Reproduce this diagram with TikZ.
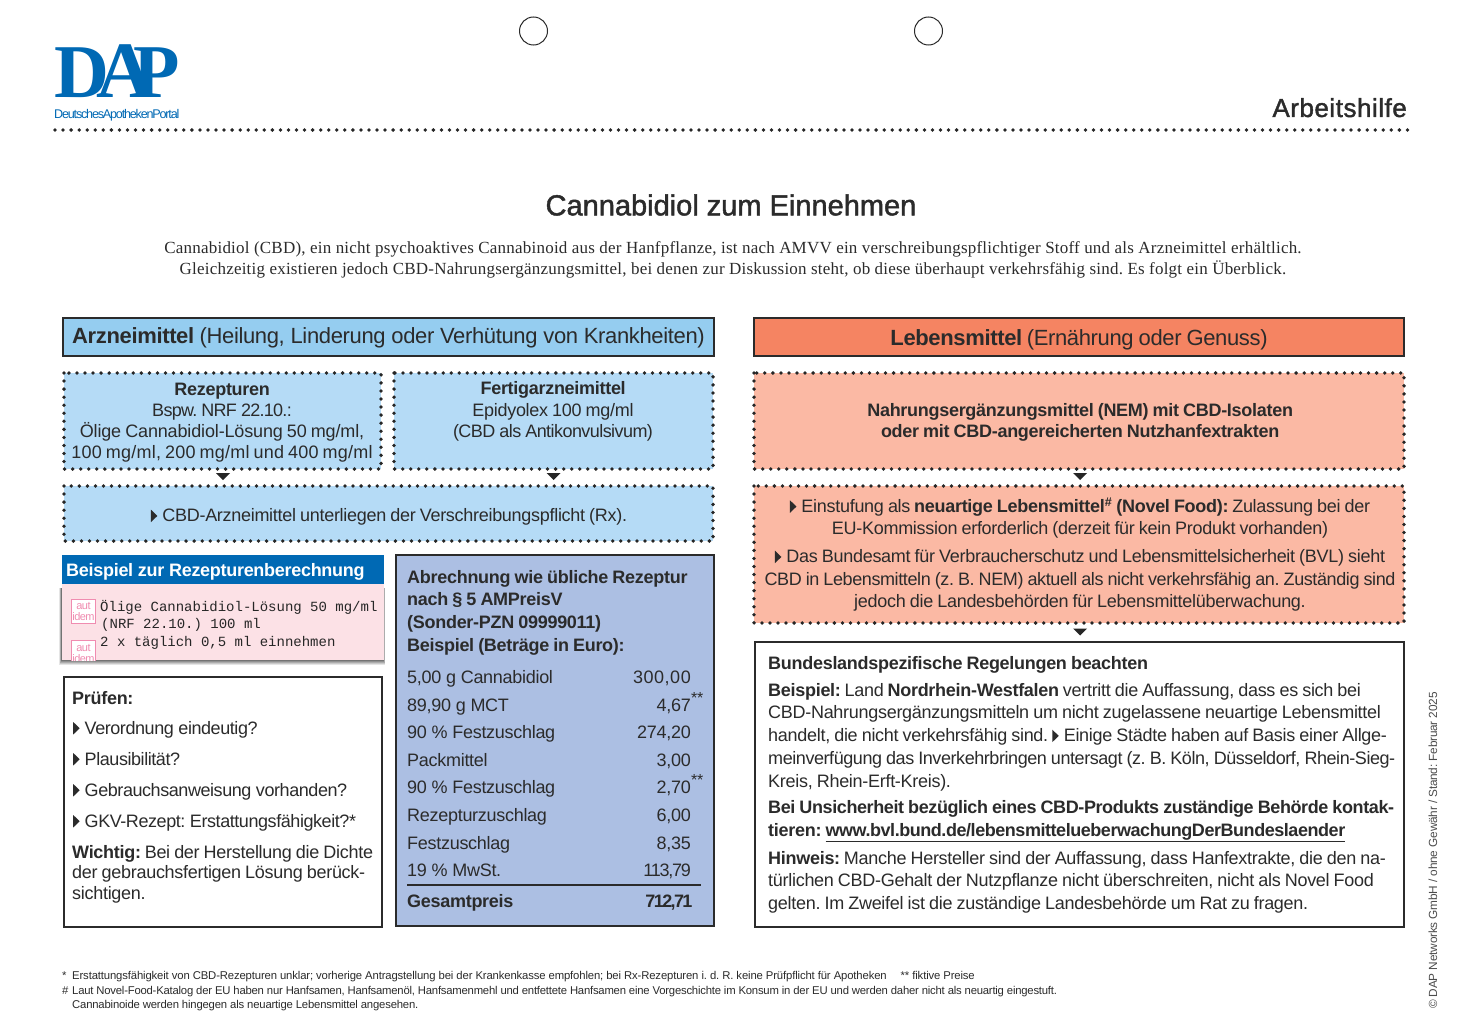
\documentclass[tikz,border=0pt]{standalone}
\usepackage{fontspec}
\setmainfont[LetterSpace=-1.6]{Liberation Sans}
\newfontfamily\serifintro[LetterSpace=1.25]{Liberation Serif}
\newfontfamily\logoserif{Liberation Serif}
\newfontfamily\headsans[FakeBold=1.5]{Liberation Sans}
\newfontfamily\rezeptmono{Liberation Mono}
\usetikzlibrary{positioning, calc}

\definecolor{dapblue}{HTML}{0069B4}
\definecolor{inktext}{HTML}{2B2B2B}
\definecolor{armhead}{HTML}{95CDF0}
\definecolor{armfill}{HTML}{B5DBF6}
\definecolor{calcfill}{HTML}{ACBFE3}
\definecolor{foodhead}{HTML}{F58462}
\definecolor{foodfill}{HTML}{FBB9A4}
\definecolor{rxpink}{HTML}{FCE1E6}
\definecolor{stamppink}{HTML}{F08CB0}

\newcommand{\px}[2]{\fontsize{#1}{#2}\selectfont}
\newcommand{\bx}[2]{\fontsize{#1}{#2}\selectfont\spaceskip=0.225em\relax}
\newcommand{\ls}[1]{\addfontfeature{LetterSpace=#1}}
\newcommand{\bul}{\tikz[x=1pt,y=1pt,baseline=0pt]\fill (0,-0.5) -- (0,12) -- (6.5,5.75) -- cycle;\hspace{5pt}}

\tikzset{
  solidbox/.style={draw=inktext, line width=2pt},
  dotbox/.style={draw=black!85, line width=3.8pt, line cap=round, dash pattern=on 0pt off 8.05pt},
  body/.style={font=\bx{18}{21.2}, text=inktext, inner sep=0pt, align=center},
  bodyleft/.style={font=\bx{18}{22.7}, text=inktext, inner sep=0pt, align=left, anchor=north west},
  rowtext/.style={font=\px{18}{21}, text=inktext, inner sep=0pt},
  rxline/.style={font=\rezeptmono\px{14}{14}, text=black!85, inner sep=0pt, anchor=west},
  stampbox/.style={draw=stamppink, line width=1.4pt, fill=white},
  stamptext/.style={font=\px{11}{10.5}\ls{-5}, text=stamppink, inner sep=0pt, align=center},
  notetext/.style={font=\px{11.3}{14}, text=inktext, inner sep=0pt, align=left, anchor=base west},
  pointer/.style={fill=black!85},
  logoletter/.style={font=\logoserif\bfseries\px{76}{76}, text=dapblue, inner sep=0pt, anchor=base west},
}

\begin{document}
\frenchspacing
\begin{tikzpicture}[x=1pt, y=-1pt]
\useasboundingbox (0,0) rectangle (1463,1030);
\fill[white] (0,0) rectangle (1463,1030);

% ---------------- head ----------------
\draw[line width=1pt, inktext] (533.5,31) circle (14);
\draw[line width=1pt, inktext] (928.5,31) circle (14);

\node[logoletter] (logoD) at (54,98) {D};
\node[logoletter, font=\logoserif\bfseries\px{80}{80}] (logoA) at (96,98) {A};
\node[logoletter] (logoP) at (133,98) {P};
\node[font=\px{12.6}{13}\ls{-9.5}, text=dapblue, inner sep=0pt, anchor=base west] (logoName) at (54,118) {DeutschesApothekenPortal};

\node[font=\headsans\px{26}{26}\ls{2}, text=inktext, inner sep=0pt, anchor=base east] (sheetType) at (1407,117) {Arbeitshilfe};
\draw[line width=3.8pt, line cap=round, black!85, dash pattern=on 0pt off 8.05pt] (55,130) -- (1410,130);

\node[font=\headsans\px{29}{29}, text=inktext, inner sep=0pt] (title) at (731,205) {Cannabidiol zum Einnehmen};
\node[font=\serifintro\px{17}{20.6}, text=inktext, inner sep=0pt, align=center] (intro) at (733,260)
  {Cannabidiol (CBD), ein nicht psychoaktives Cannabinoid aus der Hanfpflanze, ist nach AMVV ein verschreibungspflichtiger Stoff und als Arzneimittel erhältlich.\\
   Gleichzeitig existieren jedoch CBD-Nahrungsergänzungsmittel, bei denen zur Diskussion steht, ob diese überhaupt verkehrsfähig sind. Es folgt ein Überblick.};

% =====================================================================
% Left column: Arzneimittel
% =====================================================================
\draw[solidbox, fill=armhead] (63,318) rectangle (714,356);
\node[font=\px{22}{24}, text=inktext, inner sep=0pt] (armTitle) at (388.5,338) {\textbf{Arzneimittel} (Heilung, Linderung oder Verhütung von Krankheiten)};

\fill[armfill] (64,373) rectangle (381,469);
\draw[dotbox] (64,373) rectangle (381,469);
\node[body] (rezeptur) at (222,422.5) {\textbf{Rezepturen}\\{\ls{-4}Bspw. NRF 22.10.:}\\{\ls{-0.8}Ölige Cannabidiol-Lösung 50 mg/ml,}\\{\ls{1.3}100 mg/ml, 200 mg/ml und 400 mg/ml}};

\fill[armfill] (394,373) rectangle (713,469);
\draw[dotbox] (394,373) rectangle (713,469);
\node[body] (fertig) at (553,411.5) {\textbf{Fertigarzneimittel}\\Epidyolex 100 mg/ml\\{\ls{-3.1}(CBD als Antikonvulsivum)}};

\fill[pointer] (216,473) -- (230,473) -- (223,480) -- cycle;
\fill[pointer] (546.5,473) -- (560.5,473) -- (553.5,480) -- cycle;

\fill[armfill] (64,486) rectangle (713,541);
\draw[dotbox] (64,486) rectangle (713,541);
\node[body] (rxDuty) at (389,517) {\bul CBD-Arzneimittel unterliegen der Verschreibungspflicht (Rx).};

% ---------------- prescription example ----------------
\foreach \s/\o in {5/0.10,4/0.12,3/0.14,2/0.16,1/0.2} {
  \fill[black, opacity=\o] (62-\s*0.6,588) rectangle (384+\s*0.2,660+\s);
}
\fill[rxpink] (62,584) rectangle (384,660);
\fill[dapblue] (62,555) rectangle (384,584);
\node[font=\px{18}{20}, text=white, inner sep=0pt, anchor=west] (rxTitle) at (66,572) {\textbf{Beispiel zur Rezepturenberechnung}};

\draw[stampbox] (71.5,599.5) rectangle (95.5,623.5);
\node[stamptext] (stampA) at (83.5,611.5) {aut\\idem};
\begin{scope}
  \clip (62,584) rectangle (384,660);
  \draw[stampbox] (71.5,640.5) rectangle (95.5,670);
  \node[stamptext, anchor=north] (stampB) at (83.5,644.5) {aut\\idem};
\end{scope}
\node[rxline] (rxA) at (100,607.5) {Ölige Cannabidiol-Lösung 50 mg/ml};
\node[rxline] (rxB) at (101,625) {(NRF 22.10.) 100 ml};
\node[rxline] (rxC) at (100,642.5) {2 x täglich 0,5 ml einnehmen};

% ---------------- checks ----------------
\draw[solidbox, fill=white] (64,677) rectangle (382,927);
\node[rowtext, anchor=base west] (checkTitle) at (72,704) {\textbf{Prüfen:}};
\foreach \i/\y/\txt in {1/734/Verordnung eindeutig?, 2/765/Plausibilität?, 3/796/Gebrauchsanweisung vorhanden?, 4/827/GKV-Rezept: Erstattungsfähigkeit?*} {
  \node[rowtext, anchor=base west] (check\i) at (73,\y) {\bul\ls{-2.4}\txt};
}
\node[bodyleft, font=\bx{18}{20.7}] (checkNote) at (72,845) {\textbf{Wichtig:} Bei der Herstellung die Dichte\\der gebrauchsfertigen Lösung berück-\\sichtigen.};

% ---------------- invoice ----------------
\draw[solidbox, fill=calcfill] (396,555) rectangle (714,926);
\node[bodyleft, font=\bx{18}{22.7}\bfseries] (calcTitle) at (407,570) {Abrechnung wie übliche Rezeptur\\nach § 5 AMPreisV\\(Sonder-PZN 09999011)\\Beispiel (Beträge in Euro):};
\foreach \i/\y/\item/\val/\mark in {
  1/683/{5,00 g Cannabidiol}/{\ls{3}300,00}/{},
  2/711/{89,90 g MCT}/{4,67}/{**},
  3/738/{90 \% Festzuschlag}/{274,20}/{},
  4/766/{Packmittel}/{3,00}/{},
  5/793/{90 \% Festzuschlag}/{2,70}/{**},
  6/821/{Rezepturzuschlag}/{6,00}/{},
  7/849/{Festzuschlag}/{8,35}/{},
  8/876/{19 \% MwSt.}/{\ls{-7}113,79}/{}} {
  \node[rowtext, anchor=base west] (item\i) at (407,\y) {\item};
  \node[rowtext, anchor=base east] (value\i) at (691,\y) {\val};
  \node[font=\px{16}{16}, text=inktext, inner sep=0pt, anchor=north west] (mark\i) at (691,\y-18.5) {\mark};
}
\draw[inktext, line width=2pt] (407,885) -- (701,885);
\node[rowtext, anchor=base west] (totalLabel) at (407,907) {\textbf{Gesamtpreis}};
\node[rowtext, anchor=base east] (totalValue) at (691,907) {\textbf{\ls{-9}712,71}};

% =====================================================================
% Right column: Lebensmittel
% =====================================================================
\draw[solidbox, fill=foodhead] (754,318) rectangle (1404,356);
\node[font=\bx{22}{24}, text=inktext, inner sep=0pt] (foodTitle) at (1079,339.5) {\textbf{Lebensmittel} (Ernährung oder Genuss)};

\fill[foodfill] (754,373) rectangle (1404,469);
\draw[dotbox] (754,373) rectangle (1404,469);
\node[body] (supplement) at (1080,422) {\textbf{Nahrungsergänzungsmittel (NEM) mit CBD-Isolaten}\\\textbf{oder mit CBD-angereicherten Nutzhanfextrakten}};

\fill[pointer] (1073,473) -- (1087,473) -- (1080,480) -- cycle;

\fill[foodfill] (754,486) rectangle (1404,623);
\draw[dotbox] (754,486) rectangle (1404,623);
\node[body, font=\bx{18}{22.5}] (novelFood) at (1080,518) {\bul Einstufung als \textbf{neuartige Lebensmittel\textsuperscript{\#} (Novel Food):} Zulassung bei der\\EU-Kommission erforderlich (derzeit für kein Produkt vorhanden)};
\node[body, font=\bx{18}{22.5}] (bvlNote) at (1080,580.5) {\bul Das Bundesamt für Verbraucherschutz und Lebensmittelsicherheit (BVL) sieht\\{\ls{-2.2}CBD in Lebensmitteln (z. B. NEM) aktuell als nicht verkehrsfähig an. Zuständig sind}\\jedoch die Landesbehörden für Lebensmittelüberwachung.};

\fill[pointer] (1073,628.5) -- (1087,628.5) -- (1080,635.5) -- cycle;

\draw[solidbox, fill=white] (755,642) rectangle (1404,927);
\node[bodyleft] (stateTitle) at (768,656) {\textbf{Bundeslandspezifische Regelungen beachten}};
\node[bodyleft] (stateExample) at (768,683) {\textbf{Beispiel:} Land \textbf{Nordrhein-Westfalen} vertritt die Auffassung, dass es sich bei\\CBD-Nahrungsergänzungsmitteln um nicht zugelassene neuartige Lebensmittel\\handelt, die nicht verkehrsfähig sind. \bul Einige Städte haben auf Basis einer Allge-\\{\ls{-2.4}meinverfügung das Inverkehrbringen untersagt (z. B. Köln, Düsseldorf, Rhein-Sieg-}\\Kreis, Rhein-Erft-Kreis).};
\node[bodyleft] (stateContact) at (768,800.5) {\textbf{\ls{-2.2}Bei Unsicherheit bezüglich eines CBD-Produkts zuständige Behörde kontak-}\\\textbf{tieren: \ls{-2.5}\underline{www.bvl.bund.de/lebensmittelueberwachungDerBundeslaender}}};
\node[bodyleft] (stateHint) at (768,851) {\textbf{Hinweis:} Manche Hersteller sind der Auffassung, dass Hanfextrakte, die den na-\\türlichen CBD-Gehalt der Nutzpflanze nicht überschreiten, nicht als Novel Food\\gelten. Im Zweifel ist die zuständige Landesbehörde um Rat zu fragen.};

% ---------------- footnotes ----------------
\node[notetext] (starMark) at (62,979) {*};
\node[notetext] (noteA) at (72,979) {\ls{-1.2}Erstattungsfähigkeit von CBD-Rezepturen unklar; vorherige Antragstellung bei der Krankenkasse empfohlen; bei Rx-Rezepturen i. d. R. keine Prüfpflicht für Apotheken\hspace{14pt}** fiktive Preise};
\node[notetext] (hashMark) at (62,994) {\#};
\node[notetext] (noteB) at (72,994) {\ls{-1.9}Laut Novel-Food-Katalog der EU haben nur Hanfsamen, Hanfsamenöl, Hanfsamenmehl und entfettete Hanfsamen eine Vorgeschichte im Konsum in der EU und werden daher nicht als neuartig eingestuft.};
\node[notetext] (noteC) at (72,1008) {Cannabinoide werden hingegen als neuartige Lebensmittel angesehen.};

\node[font=\px{11.8}{12}, text=black!70, inner sep=0pt, rotate=90, anchor=west] (imprint) at (1433,1009) {© DAP Networks GmbH / ohne Gewähr / Stand: Februar 2025};
\end{tikzpicture}
\end{document}
